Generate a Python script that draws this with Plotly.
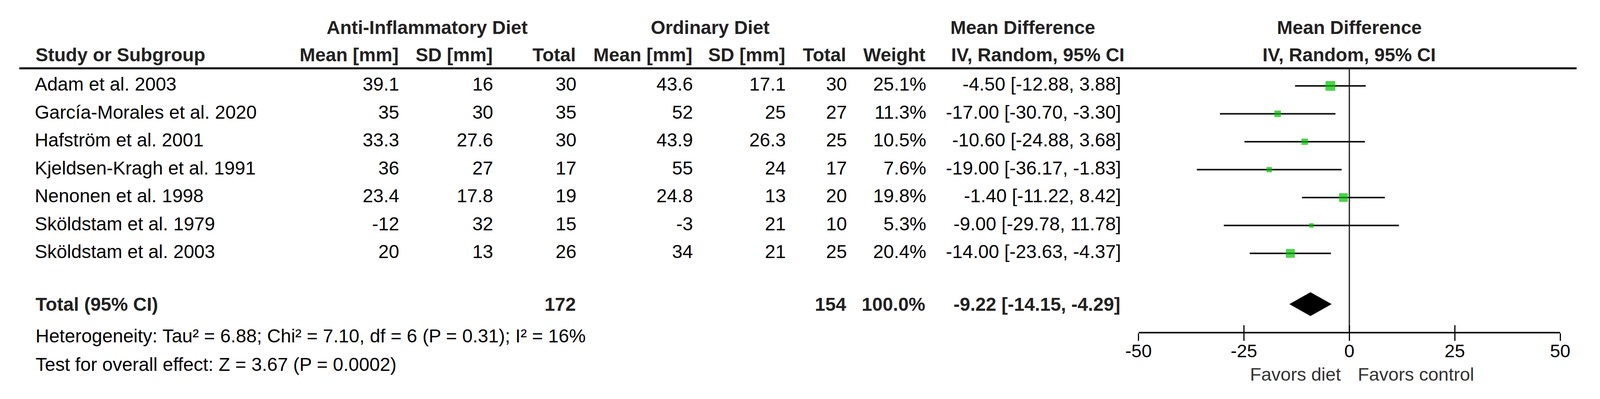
import plotly.graph_objects as go
import math

# ---------------- data ----------------
studies = ["Adam et al. 2003", "García-Morales et al. 2020", "Hafström et al. 2001",
           "Kjeldsen-Kragh et al. 1991", "Nenonen et al. 1998", "Sköldstam et al. 1979",
           "Sköldstam et al. 2003"]
diet_mean = [39.1, 35, 33.3, 36, 23.4, -12, 20]
diet_sd = [16, 30, 27.6, 27, 17.8, 32, 13]
diet_n = [30, 35, 30, 17, 19, 15, 26]
ctrl_mean = [43.6, 52, 43.9, 55, 24.8, -3, 34]
ctrl_sd = [17.1, 25, 26.3, 24, 13, 21, 21]
ctrl_n = [30, 27, 25, 17, 20, 10, 25]
weight = [25.1, 11.3, 10.5, 7.6, 19.8, 5.3, 20.4]
md = [-4.50, -17.00, -10.60, -19.00, -1.40, -9.00, -14.00]
ci_lo = [-12.88, -30.70, -24.88, -36.17, -11.22, -29.78, -23.63]
ci_hi = [3.88, -3.30, 3.68, -1.83, 8.42, 11.78, -4.37]

total_diet_n = 172
total_ctrl_n = 154
total_weight = 100.0
pooled_md = -9.22
pooled_lo = -14.15
pooled_hi = -4.29

heterogeneity = "Heterogeneity: Tau² = 6.88; Chi² = 7.10, df = 6 (P = 0.31); I² = 16%"
overall_test = "Test for overall effect: Z = 3.67 (P = 0.0002)"
tick_vals = [-50, -25, 0, 25, 50]
tick_text = ["-50", "-25", "0", "25", "50"]
favors_left = "Favors diet"
favors_right = "Favors control"

# ---------------- layout constants (reference-pixel units) ----------------
W, H = 4412, 1022
ROW0_PX, ROW_PX = 220, 71.5
def row_of(px):
    return (px - ROW0_PX) / ROW_PX

FONT = "Liberation Sans, Arial, Helvetica, sans-serif"
FS = 48
GREEN = "#00C000"

y_title = row_of(70)
y_head = row_of(140)
y_line = row_of(175)
y_total = row_of(779)
y_het = row_of(860)
y_test = row_of(933)
y_axis_px = 852
y_axis = row_of(y_axis_px)
y_fav = row_of(958)

x_name = 60
col_right = {"dm": 1080, "dsd": 1343, "dn": 1576, "cm": 1902, "csd": 2162,
             "cn": 2333, "w": 2555, "ci": 3100}

rows = list(range(len(studies)))

def fmt(v):
    return f"{v:g}"

fig = go.Figure()

def text_col(x, texts, ys, pos, color="black"):
    fig.add_trace(go.Scatter(
        x=[x] * len(texts), y=ys, text=texts, mode="text",
        textposition=pos, xaxis="x", yaxis="y",
        textfont=dict(family=FONT, size=FS, color=color),
        hoverinfo="skip", showlegend=False,
    ))

text_col(x_name, studies, rows, "middle right")
text_col(col_right["dm"], [fmt(v) for v in diet_mean], rows, "middle left")
text_col(col_right["dsd"], [fmt(v) for v in diet_sd], rows, "middle left")
text_col(col_right["dn"], [str(v) for v in diet_n], rows, "middle left")
text_col(col_right["cm"], [fmt(v) for v in ctrl_mean], rows, "middle left")
text_col(col_right["csd"], [fmt(v) for v in ctrl_sd], rows, "middle left")
text_col(col_right["cn"], [str(v) for v in ctrl_n], rows, "middle left")
text_col(col_right["w"], [f"{v:.1f}%" for v in weight], rows, "middle left")
text_col(col_right["ci"], [f"{m:.2f} [{l:.2f}, {h:.2f}]" for m, l, h in zip(md, ci_lo, ci_hi)],
         rows, "middle left")

# ---------------- forest plot (x2 axis) ----------------
fig.add_trace(go.Scatter(x=[0, 0], y=[y_line, y_axis], mode="lines", xaxis="x2", yaxis="y",
                         line=dict(color="#333333", width=3.5), hoverinfo="skip", showlegend=False))
for i in rows:
    fig.add_trace(go.Scatter(x=[ci_lo[i], ci_hi[i]], y=[i, i], mode="lines", xaxis="x2", yaxis="y",
                             line=dict(color="#111111", width=4), hoverinfo="skip", showlegend=False))
fig.add_trace(go.Scatter(x=md, y=rows, mode="markers", xaxis="x2", yaxis="y",
                         marker=dict(symbol="square", color=GREEN,
                                     size=[5.0 * math.sqrt(w) for w in weight],
                                     line=dict(width=0)),
                         hoverinfo="skip", showlegend=False))
dh = 30 / ROW_PX
fig.add_trace(go.Scatter(x=[pooled_lo, pooled_md, pooled_hi, pooled_md, pooled_lo],
                         y=[y_total, y_total - dh, y_total, y_total + dh, y_total],
                         mode="lines", fill="toself", fillcolor="black",
                         line=dict(color="black", width=1), xaxis="x2", yaxis="y",
                         hoverinfo="skip", showlegend=False))
fig.add_trace(go.Scatter(x=tick_vals, y=[y_axis] * len(tick_vals), mode="markers",
                         marker=dict(opacity=0), xaxis="x3", yaxis="y",
                         hoverinfo="skip", showlegend=False))

# ---------------- annotations ----------------
ann = []
def A(x, y, t, anchor, bold=True, color="#222222", xref="x", size=FS, family=FONT, xshift=0):
    ann.append(dict(x=x, y=y, xref=xref, yref="y", text=f"<b>{t}</b>" if bold else t,
                    showarrow=False, xanchor=anchor, yanchor="middle", xshift=xshift,
                    font=dict(family=family, size=size, color=color)))

A(1158, y_title, "Anti-Inflammatory Diet", "center")
A(1950, y_title, "Ordinary Diet", "center")
A(2620, y_title, "Mean Difference", "left")
A(0, y_title, "Mean Difference", "center", xref="x2")

A(x_name, y_head, "Study or Subgroup", "left")
A(col_right["dm"], y_head, "Mean [mm]", "right")
A(col_right["dsd"], y_head, "SD [mm]", "right")
A(col_right["dn"], y_head, "Total", "right")
A(col_right["cm"], y_head, "Mean [mm]", "right")
A(col_right["csd"], y_head, "SD [mm]", "right")
A(col_right["cn"], y_head, "Total", "right")
A(col_right["w"], y_head, "Weight", "right")
A(2622, y_head, "IV, Random, 95% CI", "left")
A(0, y_head, "IV, Random, 95% CI", "center", xref="x2")

A(x_name, y_total, "Total (95% CI)", "left")
A(col_right["dn"], y_total, str(total_diet_n), "right")
A(col_right["cn"], y_total, str(total_ctrl_n), "right")
A(col_right["w"], y_total, f"{total_weight:.1f}%", "right")
A(col_right["ci"], y_total, f"{pooled_md:.2f} [{pooled_lo:.2f}, {pooled_hi:.2f}]", "right")

A(x_name, y_het, heterogeneity, "left", bold=False, color="black")
A(x_name, y_test, overall_test, "left", bold=False, color="black")

A(0, y_fav, favors_left, "right", bold=False, color="#333333", xref="x2",
  size=47, xshift=-20)
A(0, y_fav, favors_right, "left", bold=False, color="#333333", xref="x2",
  size=47, xshift=20)

shapes = [dict(type="line", xref="x", yref="y", x0=17, x1=4375, y0=y_line, y1=y_line,
               line=dict(color="black", width=5))]

axis_pos = (H - y_axis_px) / H
dom = [3149 / W, 4329 / W]

fig.update_layout(
    autosize=True, margin=dict(l=0, r=0, t=0, b=0, pad=0),
    paper_bgcolor="white", plot_bgcolor="white",
    showlegend=False,
    annotations=ann, shapes=shapes,
    xaxis=dict(range=[0, W], domain=[0, 1], visible=False, fixedrange=True),
    yaxis=dict(range=[row_of(H), row_of(0)], domain=[0, 1], visible=False, fixedrange=True),
    xaxis2=dict(domain=dom, range=[-50, 50], anchor="free", position=axis_pos,
                showline=True, linecolor="black", linewidth=4,
                ticks="outside", ticklen=19, tickwidth=3, tickcolor="black",
                tickvals=tick_vals, ticktext=tick_text,
                ticklabelstandoff=-14,
                tickfont=dict(family=FONT, size=47, color="black"),
                showgrid=False, zeroline=False, fixedrange=True),
    xaxis3=dict(domain=dom, range=[-50, 50], anchor="free", position=axis_pos,
                overlaying="x2", showline=False,
                ticks="inside", ticklen=19, tickwidth=3, tickcolor="black",
                tickvals=tick_vals, showticklabels=False,
                showgrid=False, zeroline=False, fixedrange=True),
)

post = ("document.documentElement.style.margin='0';"
        "document.body.style.margin='0';document.body.style.overflow='hidden';"
        "var gd=document.getElementById('{plot_id}');"
        "if(window.Plotly&&gd){Plotly.Plots.resize(gd);}")

fig.write_html("out.html", default_width="100vw", default_height="100vh",
               config={"responsive": True, "displayModeBar": False},
               post_script=post)
